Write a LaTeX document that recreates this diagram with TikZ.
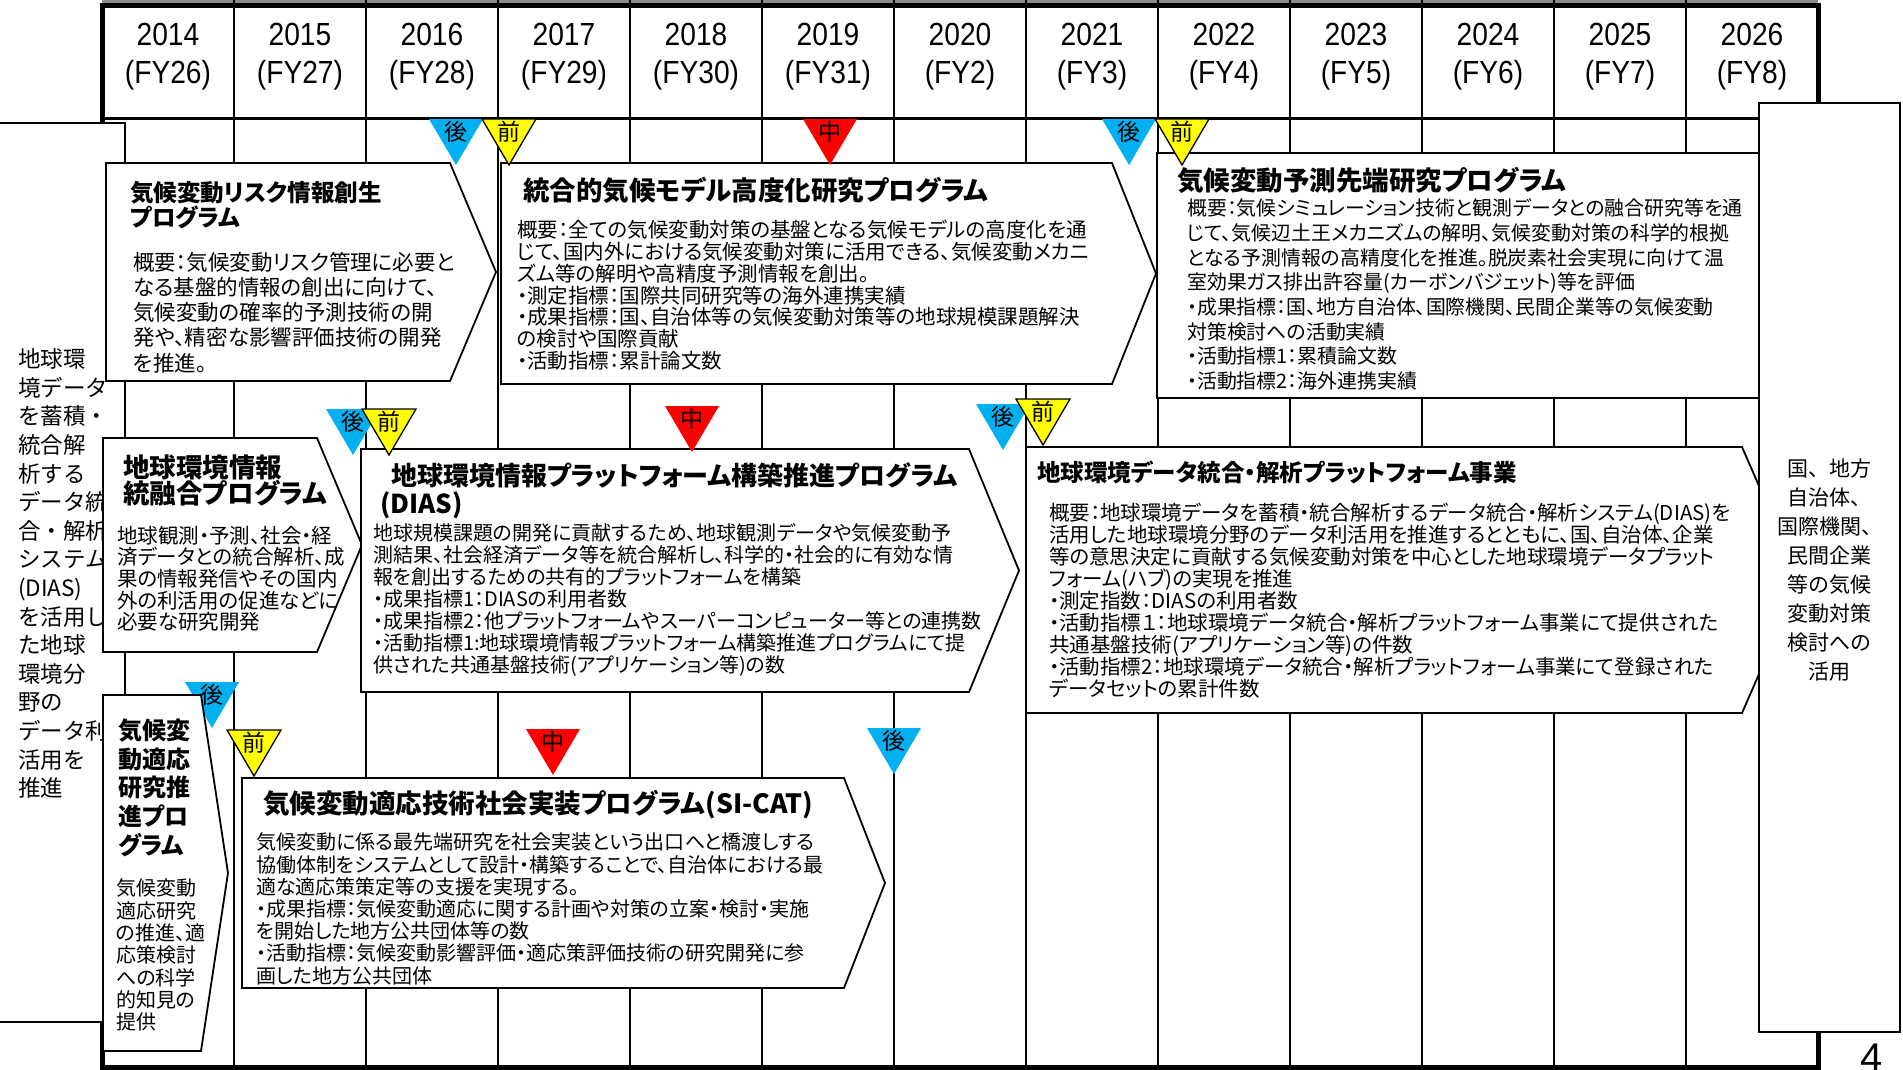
\documentclass[tikz,border=0pt]{standalone}
\usepackage{fontspec}
\setmainfont{Noto Sans CJK JP}[RawFeature=+palt]
\newfontfamily\jpfix{Noto Sans CJK JP}
\newfontfamily\hdrfont{Liberation Sans}[FakeStretch=0.88]
\newfontfamily\numfont{Liberation Sans}
\definecolor{mkcyan}{RGB}{0,176,240}
\definecolor{mkyellow}{RGB}{255,255,0}
\definecolor{mkred}{RGB}{255,0,0}
\newcommand\tstrut{\rule{0pt}{0.88em}}
\newcommand\fs[2]{\fontsize{#1}{#2}\selectfont\lineskiplimit=-50pt\relax}
\newcommand\mkr[6]{%
  \path[fill=#2,#3] (#5-27,#6) -- (#5+27,#6) -- (#5,#6+46) -- cycle;
  \node[mktxt] (#1) at (#5,#6+13) {#4};
}
\tikzset{
  colline/.style={line width=2.4pt, black},
  frameline/.style={line width=5pt, black},
  pbox/.style={draw=black, line width=1.8pt, fill=white, line join=miter},
  ttl/.style={anchor=north west, inner sep=0pt, align=left},
  hdr/.style={inner sep=0pt, anchor=base, font=\hdrfont\fs{32}{32}},
  mktxt/.style={inner sep=0pt, font=\jpfix\fs{23}{23}},
  ybord/.style={draw=black, line width=1.3pt},
  noborder/.style={draw=none},
}
\begin{document}
\begin{tikzpicture}[x=1pt, y=-1pt]
\useasboundingbox (0,0) rectangle (1903,1069);
\fill[white] (0,0) rectangle (1903,1069);
% grid
\draw[line width=3pt, black!45] (102,1.5) -- (1818,1.5);
\foreach \i in {1,...,12} \draw[colline] ({102+132*\i},0) -- ({102+132*\i},1067);
\draw[line width=3pt] (102,118) -- (1818,118);
\draw[frameline] (102,5) rectangle (1818,1067);
% header
\foreach \yr/\fy [count=\i from 0] in {2014/FY26,2015/FY27,2016/FY28,2017/FY29,2018/FY30,2019/FY31,2020/FY2,2021/FY3,2022/FY4,2023/FY5,2024/FY6,2025/FY7,2026/FY8} {
  \node[hdr] (yr\i) at ({168+132*\i},45.5) {\yr};
  \node[hdr] (fy\i) at ({168+132*\i},83) {(\fy)};
}
% left box
\draw[pbox] (-3,123) rectangle (125,1022);
\node[ttl, font=\jpfix\fs{22.5}{28.6}] (lefttxt) at (18,347.75) {\tstrut 地球環\\境データ\\を蓄積・\\統合解\\析する\\データ統\\合・解析\\システム\\(DIAS)\\を活用し\\た地球\\環境分\\野の\\データ利\\活用を\\推進};
% box 1
\draw[pbox] (106,163) -- (450,163) -- (496,272) -- (450,381) -- (106,381) -- cycle;
\node[ttl, font=\fs{23.5}{25}\bfseries] (t1) at (130,180.25) {\tstrut 気候変動リスク情報創生\\プログラム};
\node[ttl, font=\fs{21.5}{25.2}] (b1) at (133,251.25) {\tstrut 概要：気候変動リスク管理に必要と\\なる基盤的情報の創出に向けて、\\気候変動の確率的予測技術の開\\発や、精密な影響評価技術の開発\\を推進。};
% box 2
\draw[pbox] (501,163) -- (1112,163) -- (1156,273.5) -- (1112,384) -- (501,384) -- cycle;
\node[ttl, font=\fs{26.5}{28}\bfseries] (t2) at (523,176.75) {\tstrut 統合的気候モデル高度化研究プログラム};
\node[ttl, font=\fs{20.5}{21.7}] (b2) at (517,219.75) {\tstrut 概要：全ての気候変動対策の基盤となる気候モデルの高度化を通\\じて、国内外における気候変動対策に活用できる、気候変動メカニ\\ズム等の解明や高精度予測情報を創出。\\・測定指標：国際共同研究等の海外連携実績\\・成果指標：国、自治体等の気候変動対策等の地球規模課題解決\\の検討や国際貢献\\・活動指標：累計論文数};
% box 3
\draw[pbox] (1157,153) rectangle (1790,398);
\node[ttl, font=\fs{26.5}{28}\bfseries] (t3) at (1177,166.75) {\tstrut 気候変動予測先端研究プログラム};
\node[ttl, font=\fs{19.9}{24.7}] (b3) at (1187,198) {\tstrut 概要：気候シミュレーション技術と観測データとの融合研究等を通\\じて、気候辺土王メカニズムの解明、気候変動対策の科学的根拠\\となる予測情報の高精度化を推進。脱炭素社会実現に向けて温\\室効果ガス排出許容量(カーボンバジェット)等を評価\\・成果指標：国、地方自治体、国際機関、民間企業等の気候変動\\対策検討への活動実績\\・活動指標1：累積論文数\\・活動指標2：海外連携実績};
% box 4
\draw[pbox] (103,438) -- (317,438) -- (362,545) -- (317,652) -- (103,652) -- cycle;
\node[ttl, font=\fs{26.5}{26}\bfseries] (t4) at (123,453.75) {\tstrut 地球環境情報\\統融合プログラム};
\node[ttl, font=\fs{20.5}{21.7}] (b4) at (117,524.75) {\tstrut 地球観測・予測、社会・経\\済データとの統合解析、成\\果の情報発信やその国内\\外の利活用の促進などに\\必要な研究開発};
% box 5
\draw[pbox] (361,449) -- (969,449) -- (1019,570.5) -- (969,692) -- (361,692) -- cycle;
\node[ttl, font=\fs{26}{28}\bfseries] (t5) at (391,462) {\tstrut 地球環境情報プラットフォーム構築推進プログラム};
\node[ttl, font=\fs{26}{28}\bfseries] (t5b) at (380,490) {\tstrut (DIAS)};
\node[ttl, font=\fs{20}{22}] (b5) at (373,523) {\tstrut 地球規模課題の開発に貢献するため、地球観測データや気候変動予\\測結果、社会経済データ等を統合解析し、科学的・社会的に有効な情\\報を創出するための共有的プラットフォームを構築\\・成果指標1：DIASの利用者数\\・成果指標2：他プラットフォームやスーパーコンピューター等との連携数\\・活動指標1:地球環境情報プラットフォーム構築推進プログラムにて提\\供された共通基盤技術(アプリケーション等)の数};
% box 6
\draw[pbox] (1026,447) -- (1742,447) -- (1800,580) -- (1742,713) -- (1026,713) -- cycle;
\node[ttl, font=\fs{23.5}{26}\bfseries] (t6) at (1037,460.25) {\tstrut 地球環境データ統合・解析プラットフォーム事業};
\node[ttl, font=\fs{20.5}{22}] (b6) at (1049,501.75) {\tstrut 概要：地球環境データを蓄積・統合解析するデータ統合・解析システム(DIAS)を\\活用した地球環境分野のデータ利活用を推進するとともに、国、自治体、企業\\等の意思決定に貢献する気候変動対策を中心とした地球環境データプラット\\フォーム(ハブ)の実現を推進\\・測定指数：DIASの利用者数\\・活動指標１：地球環境データ統合・解析プラットフォーム事業にて提供された\\共通基盤技術(アプリケーション等)の件数\\・活動指標2：地球環境データ統合・解析プラットフォーム事業にて登録された\\データセットの累計件数};
% markers rows 1 and 2
\mkr{m1}{mkcyan}{noborder}{後}{456}{119}
\mkr{m2}{mkyellow}{ybord}{前}{509}{119}
\mkr{m3}{mkred}{noborder}{中}{830}{119}
\mkr{m4}{mkcyan}{noborder}{後}{1129}{119}
\mkr{m5}{mkyellow}{ybord}{前}{1182}{119}
\mkr{m6}{mkcyan}{noborder}{後}{353}{409}
\mkr{m7}{mkyellow}{ybord}{前}{389}{409}
\mkr{m8}{mkred}{noborder}{中}{692}{406}
\mkr{m9}{mkcyan}{noborder}{後}{1003}{404}
\mkr{m10}{mkyellow}{ybord}{前}{1043}{399}
\mkr{m11}{mkcyan}{noborder}{後}{212}{682}
% box 7
\draw[pbox] (103,695) -- (201,695) -- (228,873) -- (201,1051) -- (103,1051) -- cycle;
\node[ttl, font=\fs{24}{28.8}\bfseries] (t7) at (118,718) {\tstrut 気候変\\動適応\\研究推\\進プロ\\グラム};
\node[ttl, font=\fs{20}{22.3}] (b7) at (116,878) {\tstrut 気候変動\\適応研究\\の推進、適\\応策検討\\への科学\\的知見の\\提供};
% box 8
\draw[pbox] (242,778) -- (844,778) -- (885,883) -- (844,988) -- (242,988) -- cycle;
\node[ttl, font=\fs{26.5}{28}\bfseries] (t8) at (263,789.75) {\tstrut 気候変動適応技術社会実装プログラム(SI-CAT)};
\node[ttl, font=\fs{20}{22.2}] (b8) at (256,832) {\tstrut 気候変動に係る最先端研究を社会実装という出口へと橋渡しする\\協働体制をシステムとして設計・構築することで、自治体における最\\適な適応策策定等の支援を実現する。\\・成果指標：気候変動適応に関する計画や対策の立案・検討・実施\\を開始した地方公共団体等の数\\・活動指標：気候変動影響評価・適応策評価技術の研究開発に参\\画した地方公共団体};
% markers row 3
\mkr{m12}{mkyellow}{ybord}{前}{254}{730}
\mkr{m13}{mkred}{noborder}{中}{553}{729}
\mkr{m14}{mkcyan}{noborder}{後}{894}{728}
% right box
\draw[pbox] (1759,103) rectangle (1900,1032);
\node[inner sep=0pt, anchor=north, align=center, font=\jpfix\fs{21}{29}] (righttxt) at (1829.5,457.5) {\tstrut 国、地方\\自治体、\\国際機関、\\民間企業\\等の気候\\変動対策\\検討への\\活用};
% page number
\node[inner sep=0pt, anchor=base, font=\numfont\fs{40}{40}] (pg) at (1872,1071) {4};
\end{tikzpicture}
\end{document}
